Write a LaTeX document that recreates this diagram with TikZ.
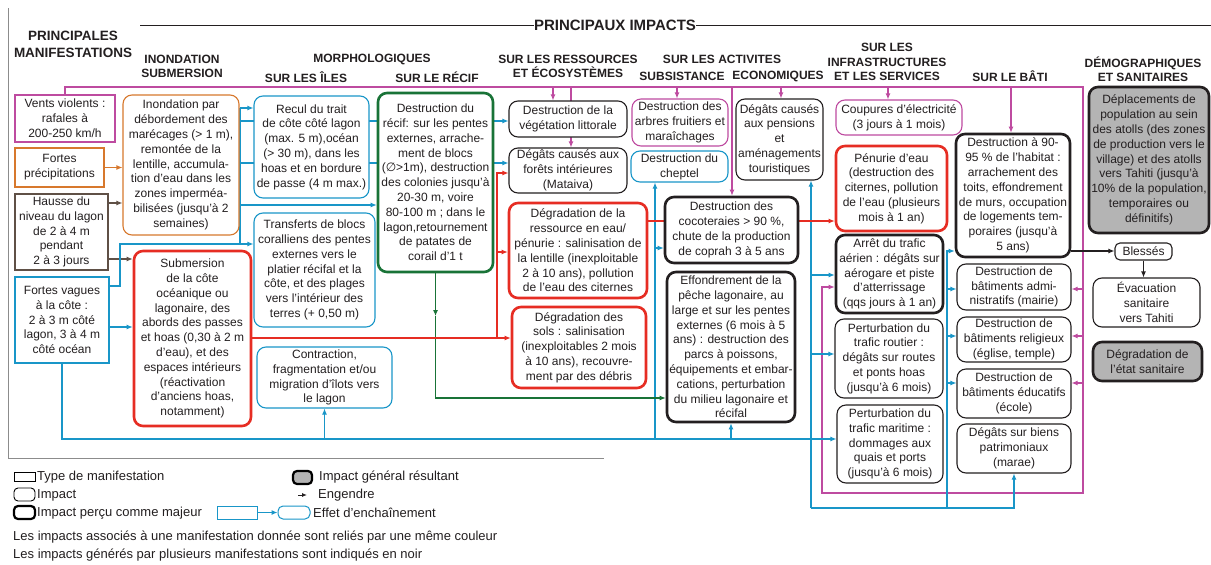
\documentclass[tikz,border=0pt]{standalone}
\usepackage{fontspec}
\setmainfont{Liberation Sans}
\newfontfamily\dejavu{DejaVu Sans}
\usetikzlibrary{arrows.meta,backgrounds}
\definecolor{cMag}{RGB}{190,75,160}
\definecolor{cOra}{RGB}{215,120,45}
\definecolor{cBro}{RGB}{95,80,70}
\definecolor{cBlu}{RGB}{25,150,200}
\definecolor{cRed}{RGB}{230,45,35}
\definecolor{cGre}{RGB}{25,115,55}
\definecolor{cGry}{RGB}{180,180,180}
\definecolor{cTxt}{RGB}{35,31,32}
\definecolor{cSep}{RGB}{140,140,140}
\newcommand{\mybox}[7]{%
  \pgfmathsetmacro{\mcx}{(#3+#5)/2}%
  \pgfmathsetmacro{\mcy}{(#4+#6)/2}%
  \pgfmathsetmacro{\mbw}{#5-#3}%
  \pgfmathsetmacro{\mbh}{#6-#4}%
  \node[#1, minimum width=\mbw pt, minimum height=\mbh pt] (#2) at (\mcx,\mcy) {#7};%
}
\tikzset{
  box/.style={draw, fill=white, align=center, text=cTxt, font=\fontsize{12}{14.8}\selectfont, inner xsep=1pt, inner ysep=0pt, line width=1.1pt},
  man/.style={box, line width=1.5pt},
  imp/.style={box, rounded corners=9pt},
  maj/.style={imp, line width=2.6pt},
  gen/.style={maj, fill=cGry},
  hdr/.style={align=center, text=cTxt, font=\bfseries\fontsize{12}{14.2}\selectfont, inner sep=0pt},
  con/.style={line width=1.1pt},
  arrowed/.style={-{Latex[length=6pt,width=5pt]}},
  lnB/.style={con, draw=cBlu},
  lnR/.style={con, draw=cRed},
  lnG/.style={con, draw=cGre},
  lnM/.style={con, draw=cMag},
  lnO/.style={con, draw=cOra},
  lnN/.style={con, draw=cBro},
  lnK/.style={con, draw=cTxt},
  leg/.style={text=cTxt, font=\fontsize{13}{15}\selectfont, inner sep=0pt, anchor=west},
}
\begin{document}
\begin{tikzpicture}[x=1pt,y=-1pt]
\useasboundingbox (0,0) rectangle (1211,565);

% headers
\node[hdr, font=\bfseries\fontsize{15}{18}\selectfont] (ttl) at (615,25) {PRINCIPAUX IMPACTS};
\node[hdr, font=\bfseries\fontsize{13.5}{17}\selectfont] (h0) at (73,44) {PRINCIPALES\\MANIFESTATIONS};
\node[hdr] (h1) at (182,66) {INONDATION\\SUBMERSION};
\node[hdr] (h2) at (372,59) {MORPHOLOGIQUES};
\node[hdr] (h3) at (306,77) {SUR LES ÎLES};
\node[hdr] (h4) at (437,77) {SUR LE RÉCIF};
\node[hdr] (h5) at (568,66) {SUR LES RESSOURCES\\ET ÉCOSYSTÈMES};
\node[hdr] (h6) at (722,59) {SUR LES ACTIVITES};
\node[hdr] (h7) at (682,76) {SUBSISTANCE};
\node[hdr] (h8) at (778,76) {ECONOMIQUES};
\node[hdr] (h9) at (887,62) {SUR LES\\INFRASTRUCTURES\\ET LES SERVICES};
\node[hdr] (h10) at (1010,76) {SUR LE BÂTI};
\node[hdr] (h11) at (1143,69) {DÉMOGRAPHIQUES\\ET SANITAIRES};

% manifestations
\mybox{man, draw=cMag}{vents}{15}{95}{115}{142}{Vents violents :\\rafales à\\200-250 km/h}
\mybox{man, draw=cOra}{prec}{15}{148}{104}{187}{Fortes\\précipitations}
\mybox{man, draw=cBro}{haus}{15}{194}{108}{270}{Hausse du\\niveau du lagon\\de 2 à 4 m\\pendant\\2 à 3 jours}
\mybox{man, draw=cBlu}{vag}{15}{277}{109}{363}{Fortes vagues\\à la côte :\\2 à 3 m côté\\lagon, 3 à 4 m\\côté océan}

% inondation
\mybox{imp, draw=cOra}{inon}{123}{95}{239}{235}{Inondation par\\débordement des\\marécages (> 1 m),\\remontée de la\\lentille, accumula-\\tion d’eau dans les\\zones imperméa-\\bilisées (jusqu’à 2\\semaines)}
\mybox{maj, draw=cRed}{subm}{134}{251}{251}{426}{Submersion\\de la côte\\océanique ou\\lagonaire, des\\abords des passes\\et hoas (0,30 à 2 m\\d’eau), et des\\espaces intérieurs\\(réactivation\\d’anciens hoas,\\notamment)}

% morphologiques
\mybox{imp, draw=cBlu}{recul}{254}{96}{369}{198}{Recul du trait\\de côte côté lagon\\(max. 5 m),océan\\(> 30 m), dans les\\hoas et en bordure\\de passe (4 m max.)}
\mybox{imp, draw=cBlu}{transf}{254}{213}{375}{327}{Transferts de blocs\\coralliens des pentes\\externes vers le\\platier récifal et la\\côte, et des plages\\vers l’intérieur des\\terres (+ 0,50 m)}
\mybox{imp, draw=cBlu}{contr}{257}{347}{392}{408}{Contraction,\\fragmentation et/ou\\migration d’îlots vers\\le lagon}
\mybox{maj, draw=cGre}{recif}{378}{93}{493}{272}{Destruction du\\récif: sur les pentes\\externes, arrache-\\ment de blocs\\({\dejavu ∅}>1m), destruction\\des colonies jusqu’à\\20-30 m, voire\\80-100 m ; dans le\\lagon,retournement\\de patates de\\corail d’1 t}

% ressources
\mybox{imp, draw=cTxt}{veg}{509}{101}{627}{137}{Destruction de la\\végétation littorale}
\mybox{imp, draw=cTxt}{fore}{509}{148}{627}{193}{Dégâts causés aux\\forêts intérieures\\(Mataiva)}
\mybox{maj, draw=cRed}{ress}{509}{203}{647}{298}{Dégradation de la\\ressource en eau/\\pénurie : salinisation de\\la lentille (inexploitable\\2 à 10 ans), pollution\\de l’eau des citernes}
\mybox{maj, draw=cRed}{sols}{512}{307}{646}{388}{Dégradation des\\sols : salinisation\\(inexploitables 2 mois\\à 10 ans), recouvre-\\ment par des débris}

% activites
\mybox{imp, draw=cMag}{arbr}{632}{99}{728}{146}{Destruction des\\arbres fruitiers et\\maraîchages}
\mybox{imp, draw=cBlu}{chep}{631}{151}{728}{182}{Destruction du\\cheptel}
\mybox{imp, draw=cTxt}{pens}{736}{99}{823}{180}{Dégâts causés\\aux pensions\\et\\aménagements\\touristiques}
\mybox{maj, draw=cTxt}{coco}{665}{197}{798}{263}{Destruction des\\cocoteraies > 90 \%,\\chute de la production\\de coprah 3 à 5 ans}
\mybox{maj, draw=cTxt}{effo}{667}{272}{795}{422}{Effondrement de la\\pêche lagonaire, au\\large et sur les pentes\\externes (6 mois à 5\\ans) : destruction des\\parcs à poissons,\\équipements et embar-\\cations, perturbation\\du milieu lagonaire et\\récifal}

% infrastructures
\mybox{imp, draw=cMag}{coup}{836}{100}{962}{135}{Coupures d’électricité\\(3 jours à 1 mois)}
\mybox{maj, draw=cRed}{penu}{836}{146}{947}{231}{Pénurie d’eau\\(destruction des\\citernes, pollution\\de l’eau (plusieurs\\mois à 1 an)}
\mybox{maj, draw=cTxt}{arre}{836}{235}{943}{313}{Arrêt du trafic\\aérien : dégâts sur\\aérogare et piste\\d’atterrissage\\(qqs jours à 1 an)}
\mybox{imp, draw=cTxt}{rout}{835}{319}{943}{398}{Perturbation du\\trafic routier :\\dégâts sur routes\\et ponts hoas\\(jusqu’à 6 mois)}
\mybox{imp, draw=cTxt}{mari}{837}{405}{943}{483}{Perturbation du\\trafic maritime :\\dommages aux\\quais et ports\\(jusqu’à 6 mois)}

% bati
\mybox{maj, draw=cTxt}{habi}{956}{134}{1070}{257}{Destruction à 90-\\95 \% de l’habitat :\\arrachement des\\toits, effondrement\\de murs, occupation\\de logements tem-\\poraires (jusqu’à\\5 ans)}
\mybox{imp, draw=cTxt}{admi}{957}{264}{1071}{310}{Destruction de\\bâtiments admi-\\nistratifs (mairie)}
\mybox{imp, draw=cTxt}{reli}{957}{317}{1071}{362}{Destruction de\\bâtiments religieux\\(église, temple)}
\mybox{imp, draw=cTxt}{educ}{957}{369}{1071}{418}{Destruction de\\bâtiments éducatifs\\(école)}
\mybox{imp, draw=cTxt}{patr}{957}{424}{1071}{473}{Dégâts sur biens\\patrimoniaux\\(marae)}

% demographiques
\mybox{gen, draw=cTxt}{depl}{1089}{87}{1209}{233}{Déplacements de\\population au sein\\des atolls (des zones\\de production vers le\\village) et des atolls\\vers Tahiti (jusqu’à\\10\% de la population,\\temporaires ou\\définitifs)}
\mybox{imp, draw=cTxt, rounded corners=5pt}{bles}{1115}{243}{1172}{260}{Blessés}
\mybox{imp, draw=cTxt}{evac}{1093}{278}{1200}{327}{Évacuation\\sanitaire\\vers Tahiti}
\mybox{gen, draw=cTxt}{sani}{1093}{342}{1202}{381}{Dégradation de\\l’état sanitaire}

% legend
\mybox{box, line width=0.9pt}{lg1}{14}{472}{35}{481}{}
\node[leg] (lt1) at (37,477) {Type de manifestation};
\mybox{box, line width=0.9pt, rounded corners=4pt}{lg2}{14}{488}{35}{501}{}
\node[leg] (lt2) at (37,495) {Impact};
\mybox{box, line width=2.2pt, rounded corners=4pt}{lg3}{14}{506}{35}{519}{}
\node[leg] (lt3) at (37,513) {Impact perçu comme majeur};
\mybox{box, line width=2.2pt, rounded corners=4pt, fill=cGry}{lg4}{293}{471}{312}{484}{}
\node[leg] (lt4) at (319,477) {Impact général résultant};
\coordinate (la1) at (298,495);
\coordinate (la2) at (307,495);
\draw[lnK, line width=0.9pt, -{Latex[length=5pt,width=4pt]}] (la1) -- (la2);
\node[leg] (lt5) at (318,495) {Engendre};
\mybox{box, draw=cBlu, line width=1pt}{lg5}{217}{506}{257}{519}{}
\mybox{box, draw=cBlu, line width=1pt, rounded corners=5pt}{lg6}{278}{506}{310}{519}{}
\draw[lnB, arrowed] (lg5.east) -- (lg6.west);
\node[leg] (lt6) at (313,513) {Effet d’enchaînement};
\node[leg] (lt7) at (13,537) {Les impacts associés à une manifestation donnée sont reliés par une même couleur};
\node[leg] (lt8) at (13,555) {Les impacts générés par plusieurs manifestations sont indiqués en noir};

\begin{pgfonlayer}{background}
\fill[white] (0,0) rectangle (1211,565);
% title lines and separator
\draw[lnK, line width=0.9pt] (140,25) -- (ttl.west);
\draw[lnK, line width=0.9pt] (ttl.east) -- (1211,25);
\draw[cSep, line width=0.9pt] (8,8) -- (8,458) -- (604,458);

% magenta
\draw[lnM, arrowed] (vents.north) |- (1083,87) -- (1083,493) -| (822,287) -- (arre.west |- 0,287);
\foreach \xx/\nn in {553/veg, 571/fore, 677/arbr, 732/coco, 781/pens, 888/coup, 1011/habi}
  \draw[lnM, arrowed] (\xx,87) -- (\nn.north -| \xx,0);
\foreach \yy/\nn in {289/admi, 336/reli, 383/educ}
  \draw[lnM, arrowed] (1083,\yy) -- (\nn.east |- 0,\yy);

% orange, brown
\draw[lnO, arrowed] (prec.east) -- (inon.west |- prec.east);
\draw[lnN, arrowed] (haus.east |- 0,203) -- (inon.west |- 0,203);
\draw[lnN, arrowed] (haus.east |- 0,259) -- (subm.west |- 0,259);

% blue
\draw[lnB, arrowed] (vag.east |- 0,327) -- (subm.west |- 0,327);
\draw[lnB, arrowed] (vag.east |- 0,286) -| (120,244) -- (transf.west |- 0,244);
\draw[lnB] (240,244) -- (240,108);
\draw[lnB, arrowed] (240,108) -- (recul.west |- 0,108);
\draw[lnB, arrowed] (240,121) -- (veg.west |- 0,121);
\draw[lnB, arrowed] (240,163) -- (fore.west |- 0,163);
\draw[lnB, arrowed] (240,205) -- (recif.west |- 0,205);
\draw[lnB, arrowed] (vag.south) |- (mari.west |- 0,439);
\draw[lnB, arrowed] (contr.south |- 0,439) -- (contr.south);
\draw[lnB, arrowed] (655,439) -- (chep.south -| 655,0);
\draw[lnB, arrowed] (655,248) -- (coco.west |- 0,248);
\draw[lnB, arrowed] (effo.south |- 0,439) -- (effo.south);
\draw[lnB, arrowed] (811,508) -- (pens.south -| 811,0);
\draw[lnB, arrowed] (811,275) -- (arre.west |- 0,275);
\draw[lnB, arrowed] (811,354) -- (rout.west |- 0,354);
\draw[lnB, arrowed] (811,508) -| (patr.south);
\draw[lnB, arrowed] (947,508) |- (habi.west |- 0,251);
\foreach \yy/\nn in {289/admi, 336/reli, 383/educ}
  \draw[lnB, arrowed] (947,\yy) -- (\nn.west |- 0,\yy);

% green
\draw[lnG, arrowed] (recif.south) -- (recif.south |- 0,316);
\draw[lnG, arrowed] (recif.south |- 0,316) |- (effo.west |- 0,398);

% red
\draw[lnR, arrowed] (subm.east |- 0,338) -- (sols.west |- 0,338);
\draw[lnR, arrowed] (497,338) |- (fore.west |- 0,173);
\draw[lnR, arrowed] (497,252) -- (ress.west |- 0,252);
\draw[lnR, arrowed] (ress.east |- 0,221) -- (penu.west |- 0,221);

% black
\draw[lnK, arrowed] (habi.east |- 0,251) -- (bles.west |- 0,251);
\draw[lnK, arrowed] (bles.south) -- (bles.south |- evac.north);
\end{pgfonlayer}
\end{tikzpicture}
\end{document}
